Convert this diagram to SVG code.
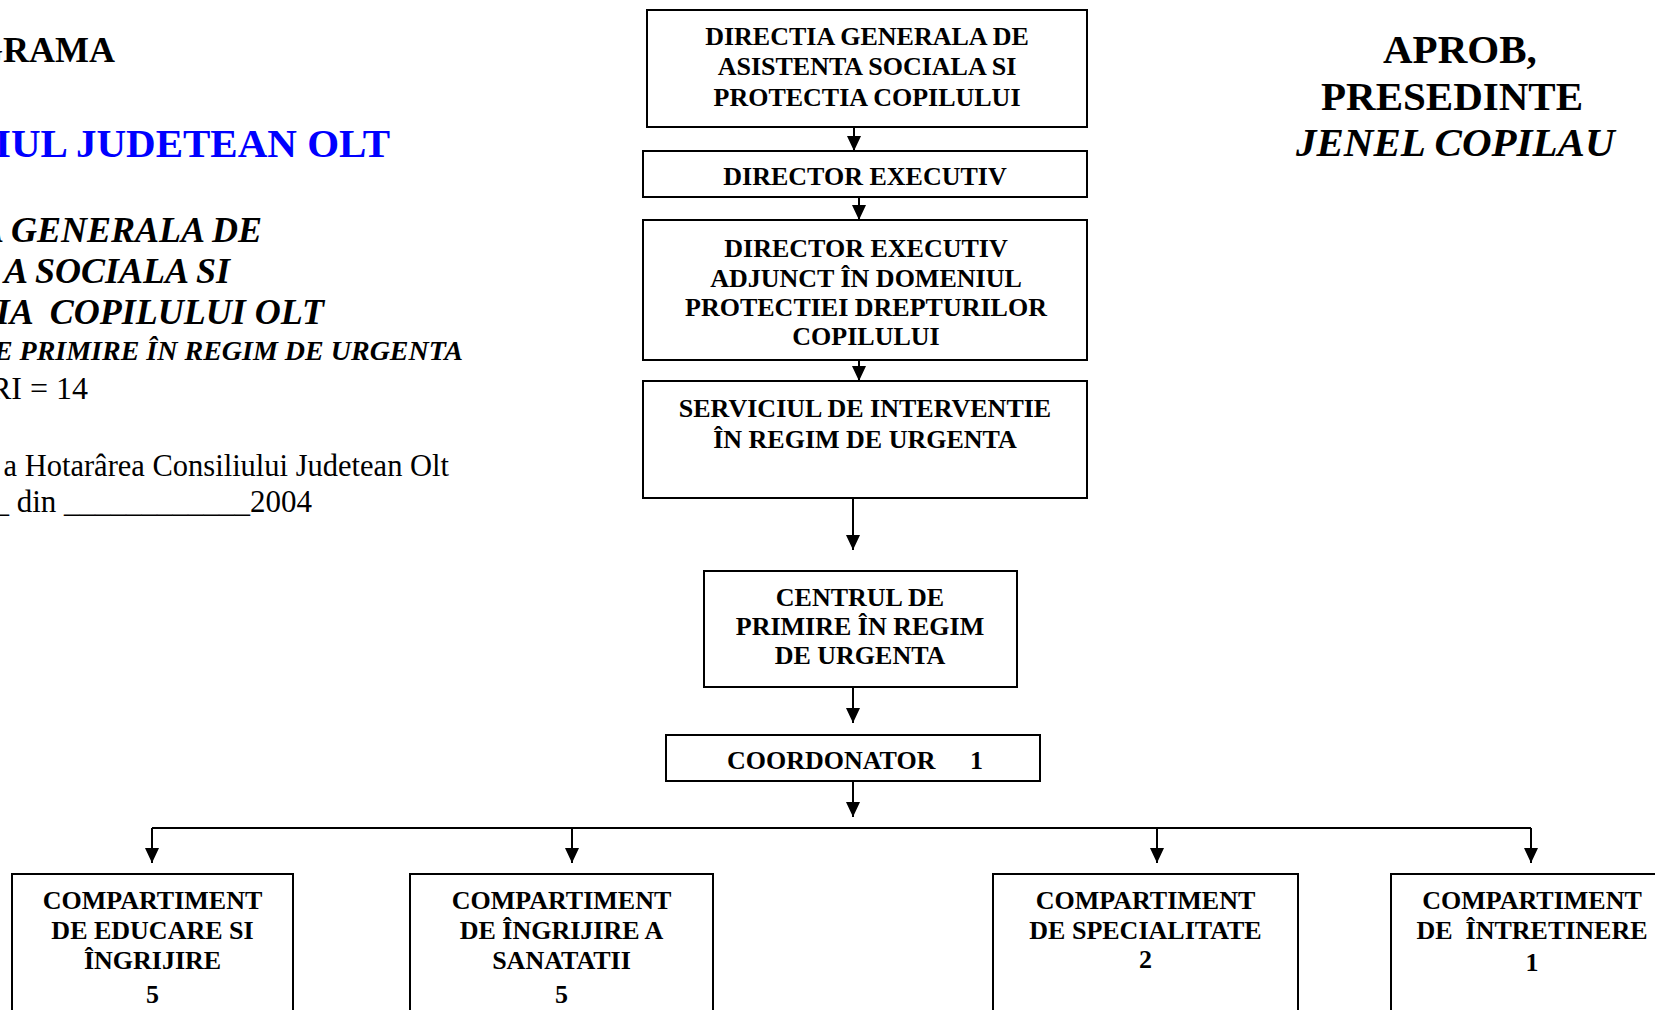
<svg xmlns="http://www.w3.org/2000/svg" width="1655" height="1010" viewBox="0 0 1655 1010">
<style>
text{font-family:"Liberation Serif","Times New Roman",serif;fill:#000;white-space:pre}
.b{font-weight:bold}
.bi{font-weight:bold;font-style:italic}
.box{fill:#fff;stroke:#000;stroke-width:2}
.nt{font-weight:bold;font-size:26px;text-anchor:middle}
.con{fill:none;stroke:#000;stroke-width:2}
</style>
<defs>
<marker id="ah" markerUnits="userSpaceOnUse" viewBox="0 0 15 14" refX="15" refY="7" markerWidth="15" markerHeight="14" orient="auto">
<path d="M0,0 L15,7 L0,14 z" fill="#000"/>
</marker>
</defs>

<g id="header-left">
<text class="b" x="115" y="62" font-size="36" text-anchor="end">GRAMA</text>
<text class="b" x="390" y="157" font-size="41" text-anchor="end" style="fill:#0000ff">IUL JUDETEAN OLT</text>
<text class="bi" x="262" y="242" font-size="36" text-anchor="end">A GENERALA DE</text>
<text class="bi" x="230" y="283" font-size="36" text-anchor="end">A SOCIALA SI</text>
<text class="bi" x="324" y="324" font-size="36" text-anchor="end">IA  COPILULUI OLT</text>
<text class="bi" x="463" y="360" font-size="28" text-anchor="end">E PRIMIRE ÎN REGIM DE URGENTA</text>
<text x="88" y="399" font-size="32" text-anchor="end">RI = 14</text>
<text x="449" y="476" font-size="30.5" text-anchor="end">a Hotarârea Consiliului Judetean Olt</text>
<text x="312" y="512" font-size="31" text-anchor="end">_ din ____________2004</text>
</g>

<g id="header-right">
<text class="b" x="1383" y="63" font-size="41">APROB,</text>
<text class="b" x="1321" y="110" font-size="41">PRESEDINTE</text>
<text class="bi" x="1296" y="156" font-size="41">JENEL COPILAU</text>
</g>

<g id="connectors">
<line class="con" x1="854" y1="127" x2="854" y2="151" marker-end="url(#ah)"/>
<line class="con" x1="859" y1="197" x2="859" y2="220" marker-end="url(#ah)"/>
<line class="con" x1="859" y1="360" x2="859" y2="381" marker-end="url(#ah)"/>
<line class="con" x1="853" y1="498" x2="853" y2="550" marker-end="url(#ah)"/>
<line class="con" x1="853" y1="687" x2="853" y2="723" marker-end="url(#ah)"/>
<line class="con" x1="853" y1="781" x2="853" y2="817" marker-end="url(#ah)"/>
<line class="con" x1="152" y1="828" x2="1531" y2="828"/>
<line class="con" x1="152" y1="828" x2="152" y2="863" marker-end="url(#ah)"/>
<line class="con" x1="572" y1="828" x2="572" y2="863" marker-end="url(#ah)"/>
<line class="con" x1="1157" y1="828" x2="1157" y2="863" marker-end="url(#ah)"/>
<line class="con" x1="1531" y1="828" x2="1531" y2="863" marker-end="url(#ah)"/>
</g>

<g id="node-dgaspc">
<rect class="box" x="647" y="10" width="440" height="117"/>
<text class="nt" x="867" y="45">DIRECTIA GENERALA DE</text>
<text class="nt" x="867" y="75">ASISTENTA SOCIALA SI</text>
<text class="nt" x="867" y="106">PROTECTIA COPILULUI</text>
</g>

<g id="node-director">
<rect class="box" x="643" y="151" width="444" height="46"/>
<text class="nt" x="865" y="185">DIRECTOR EXECUTIV</text>
</g>

<g id="node-director-adjunct">
<rect class="box" x="643" y="220" width="444" height="140"/>
<text class="nt" x="866" y="257">DIRECTOR EXECUTIV</text>
<text class="nt" x="866" y="287">ADJUNCT ÎN DOMENIUL</text>
<text class="nt" x="866" y="316">PROTECTIEI DREPTURILOR</text>
<text class="nt" x="866" y="345">COPILULUI</text>
</g>

<g id="node-serviciul">
<rect class="box" x="643" y="381" width="444" height="117"/>
<text class="nt" x="865" y="417">SERVICIUL DE INTERVENTIE</text>
<text class="nt" x="865" y="448">ÎN REGIM DE URGENTA</text>
</g>

<g id="node-centrul">
<rect class="box" x="704" y="571" width="313" height="116"/>
<text class="nt" x="860" y="606">CENTRUL DE</text>
<text class="nt" x="860" y="635">PRIMIRE ÎN REGIM</text>
<text class="nt" x="860" y="664">DE URGENTA</text>
</g>

<g id="node-coordonator">
<rect class="box" x="666" y="735" width="374" height="46"/>
<text class="b" x="727" y="769" font-size="26">COORDONATOR</text>
<text class="b" x="970" y="769" font-size="26">1</text>
</g>

<g id="node-educare">
<rect class="box" x="12" y="874" width="281" height="160"/>
<text class="nt" x="152.5" y="909">COMPARTIMENT</text>
<text class="nt" x="152.5" y="939">DE EDUCARE SI</text>
<text class="nt" x="152.5" y="969">ÎNGRIJIRE</text>
<text class="nt" x="152.5" y="1003" font-size="30">5</text>
</g>

<g id="node-ingrijire">
<rect class="box" x="410" y="874" width="303" height="160"/>
<text class="nt" x="561.5" y="909">COMPARTIMENT</text>
<text class="nt" x="561.5" y="939">DE ÎNGRIJIRE A</text>
<text class="nt" x="561.5" y="969">SANATATII</text>
<text class="nt" x="561.5" y="1003" font-size="30">5</text>
</g>

<g id="node-specialitate">
<rect class="box" x="993" y="874" width="305" height="160"/>
<text class="nt" x="1145.5" y="909">COMPARTIMENT</text>
<text class="nt" x="1145.5" y="939">DE SPECIALITATE</text>
<text class="nt" x="1145.5" y="968">2</text>
</g>

<g id="node-intretinere">
<rect class="box" x="1391" y="874" width="290" height="160"/>
<text class="nt" x="1532" y="909">COMPARTIMENT</text>
<text class="nt" x="1532" y="939">DE  ÎNTRETINERE</text>
<text class="nt" x="1532" y="971">1</text>
</g>
</svg>
